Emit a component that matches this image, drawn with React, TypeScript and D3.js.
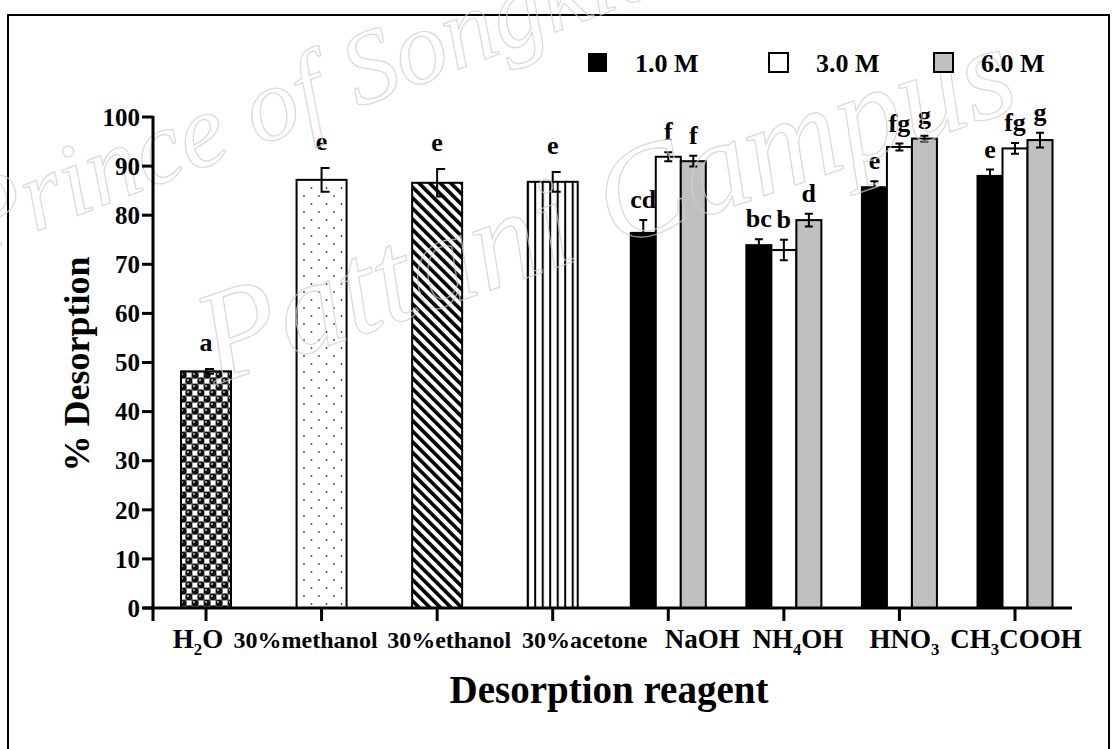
import React from "react";
import * as d3 from "d3";

// Reagents on the x axis (digits after a letter are drawn as subscripts)
const categories = ["H2O", "30%methanol", "30%ethanol", "30%acetone", "NaOH", "NH4OH", "HNO3", "CH3COOH"];

// Single-condition reagents
const singleReagents = ["H2O", "30%methanol", "30%ethanol", "30%acetone"];
const singleMeans = [48.2, 87.2, 86.6, 86.8];
const singleErrors = [0.5, 2.4, 2.8, 2.0];
const singleLetters = ["a", "e", "e", "e"];

// Acid / base reagents at three concentrations
const concentrations = ["1.0 M", "3.0 M", "6.0 M"];
const acidBaseReagents = ["NaOH", "NH4OH", "HNO3", "CH3COOH"];
const means1M = [76.4, 73.9, 85.7, 88.0];
const means3M = [91.9, 72.9, 93.9, 93.6];
const means6M = [91.0, 79.0, 95.6, 95.3];
const errors1M = [2.6, 1.2, 1.2, 1.3];
const errors3M = [0.9, 2.1, 0.7, 1.1];
const errors6M = [1.1, 1.3, 0.6, 1.5];
const letters1M = ["cd", "bc", "e", "e"];
const letters3M = ["f", "b", "fg", "fg"];
const letters6M = ["f", "d", "g", "g"];

const yTicks = [0, 10, 20, 30, 40, 50, 60, 70, 80, 90, 100];

const FONT = "'Liberation Serif', 'Times New Roman', serif";

function splitChem(label: string) {
  const parts: { t: string; sub: boolean }[] = [];
  for (let i = 0; i < label.length; i++) {
    const ch = label[i];
    const isSub = /[0-9]/.test(ch) && i > 0 && /[A-Za-z]/.test(label[i - 1]);
    const last = parts[parts.length - 1];
    if (last && last.sub === isSub) last.t += ch;
    else parts.push({ t: ch, sub: isSub });
  }
  return parts;
}

function ChemText({ label, x, y, size, shift }: { label: string; x: number; y: number; size: number; shift: number }) {
  const parts = splitChem(label);
  const spans: React.ReactNode[] = [];
  let down = false;
  parts.forEach((p, i) => {
    if (p.sub) {
      spans.push(
        <tspan key={i} dy={shift} fontSize={size * 0.62}>
          {p.t}
        </tspan>
      );
      down = true;
    } else {
      spans.push(
        <tspan key={i} dy={down ? -shift : 0}>
          {p.t}
        </tspan>
      );
      down = false;
    }
  });
  return (
    <text x={x} y={y} textAnchor="middle" fontFamily={FONT} fontWeight="bold" fontSize={size} fill="#000">
      {spans}
    </text>
  );
}

export default function App() {
  const width = 1116;
  const height = 749;

  const y = d3.scaleLinear().domain([0, 100]).range([608, 117]);
  const x = d3.scalePoint<string>().domain(categories).range([206, 1015]);

  const singleWidth = 50;
  const groupBar = 25;
  const seriesFill = ["#000000", "#ffffff", "#c0c0c0"];
  const singlePatterns = ["url(#patBalls)", "url(#patDots)", "url(#patDiag)", "url(#patVert)"];

  const groupMeans = [means1M, means3M, means6M];
  const groupErrors = [errors1M, errors3M, errors6M];
  const groupLetters = [letters1M, letters3M, letters6M];

  const labelShift = [-8, -16, 12, 32, 34, 14, 5, 1];
  const letterGap = 16;

  const axisLeft = 153;
  const axisBottom = 608;

  return (
    <svg width={width} height={height} style={{ position: "absolute", left: 0, top: 0, background: "#fff" }}>
      <defs>
        <pattern id="patBalls" width="12" height="12" patternUnits="userSpaceOnUse">
          <rect width="12" height="12" fill="#fff" />
          <rect x="6" y="0" width="6" height="6" fill="#fff" stroke="#333" strokeWidth="0.9" />
          <rect x="0" y="6" width="6" height="6" fill="#fff" stroke="#333" strokeWidth="0.9" />
          <circle cx="3" cy="3" r="3.5" fill="#111" />
          <circle cx="9" cy="9" r="3.5" fill="#111" />
          <circle cx="2" cy="2" r="0.9" fill="#ddd" />
          <circle cx="8" cy="8" r="0.9" fill="#ddd" />
        </pattern>
        <pattern id="patDots" width="15" height="16" patternUnits="userSpaceOnUse">
          <rect width="15" height="16" fill="#fff" />
          <circle cx="4" cy="4" r="0.9" fill="#444" />
          <circle cx="11.5" cy="12" r="0.9" fill="#444" />
        </pattern>
        <pattern id="patDiag" width="7.5" height="7.5" patternUnits="userSpaceOnUse" patternTransform="rotate(-45)">
          <rect width="7.5" height="7.5" fill="#fff" />
          <rect x="0" y="0" width="3.6" height="7.5" fill="#000" />
        </pattern>
        <pattern id="patVert" x={x("30%acetone")! - singleWidth / 2 + 6.5} width="7.5" height="10" patternUnits="userSpaceOnUse">
          <rect width="7.5" height="10" fill="#fff" />
          <rect x="0" y="0" width="2" height="10" fill="#000" />
        </pattern>
      </defs>

      {/* frame */}
      <rect x={8} y={15} width={1101} height={760} fill="none" stroke="#000" strokeWidth={2} />

      {/* single-condition bars */}
      {singleReagents.map((r, i) => {
        const cx = x(r)!;
        const top = y(singleMeans[i]);
        const hi = y(singleMeans[i] + singleErrors[i]);
        const lo = y(singleMeans[i] - singleErrors[i]);
        return (
          <g key={r}>
            <rect
              x={cx - singleWidth / 2}
              y={top}
              width={singleWidth}
              height={axisBottom - top}
              fill={singlePatterns[i]}
              stroke="#000"
              strokeWidth={2}
            />
            <path
              d={`M${cx + 8},${hi} H${cx} V${lo} H${cx + 8}`}
              fill="none"
              stroke="#000"
              strokeWidth={2}
            />
            <text
              x={cx}
              y={hi - letterGap - 2}
              textAnchor="middle"
              fontFamily={FONT}
              fontWeight="bold"
              fontSize={26}
            >
              {singleLetters[i]}
            </text>
          </g>
        );
      })}

      {/* concentration groups */}
      {acidBaseReagents.map((r, i) => {
        const cx = x(r)!;
        return (
          <g key={r}>
            {concentrations.map((c, k) => {
              const bx = cx - (groupBar * 3) / 2 + k * groupBar;
              const bc = bx + groupBar / 2;
              const v = groupMeans[k][i];
              const e = groupErrors[k][i];
              const top = y(v);
              const hi = y(v + e);
              const lo = y(v - e);
              return (
                <g key={c}>
                  <rect
                    x={bx}
                    y={top}
                    width={groupBar}
                    height={axisBottom - top}
                    fill={seriesFill[k]}
                    stroke="#000"
                    strokeWidth={2}
                  />
                  <path
                    d={`M${bc - 4},${hi} H${bc + 4} M${bc},${hi} V${lo} M${bc - 4},${lo} H${bc + 4}`}
                    fill="none"
                    stroke="#000"
                    strokeWidth={2}
                  />
                  <text
                    x={bc}
                    y={hi - letterGap + 4}
                    textAnchor="middle"
                    fontFamily={FONT}
                    fontWeight="bold"
                    fontSize={26}
                  >
                    {groupLetters[k][i]}
                  </text>
                </g>
              );
            })}
          </g>
        );
      })}

      {/* watermark */}
      <g fill="none" stroke="#cfcfcf" strokeWidth={1.3} opacity={0.75} fontFamily={FONT} fontStyle="italic">
        <text transform="translate(-25,255) rotate(-21)" fontSize={104}>
          Prince of Songkla
        </text>
        <text transform="translate(215,385) rotate(-19)" fontSize={132}>
          Pattani Campus
        </text>
      </g>

      {/* y axis */}
      <line x1={axisLeft} x2={axisLeft} y1={y(100) - 1} y2={621} stroke="#000" strokeWidth={3} />
      {yTicks.map((t) => (
        <g key={t}>
          <line x1={axisLeft - 11} x2={axisLeft} y1={y(t)} y2={y(t)} stroke="#000" strokeWidth={3} />
          <text
            x={axisLeft - 13}
            y={y(t)}
            dy="0.35em"
            textAnchor="end"
            fontFamily={FONT}
            fontWeight="bold"
            fontSize={25}
          >
            {t}
          </text>
        </g>
      ))}

      {/* x axis */}
      <line x1={143} x2={1072} y1={axisBottom} y2={axisBottom} stroke="#000" strokeWidth={3} />
      {categories.map((c, i) => (
        <g key={c}>
          <line x1={x(c)!} x2={x(c)!} y1={axisBottom} y2={621} stroke="#000" strokeWidth={3} />
          <ChemText
            label={c}
            x={x(c)! + labelShift[i]}
            y={648}
            size={c.startsWith("30%") ? 24 : 27}
            shift={7}
          />
        </g>
      ))}

      {/* axis titles */}
      <text x={609} y={703} textAnchor="middle" fontFamily={FONT} fontWeight="bold" fontSize={39}>
        Desorption reagent
      </text>
      <text
        transform="translate(89,364) rotate(-90)"
        textAnchor="middle"
        fontFamily={FONT}
        fontWeight="bold"
        fontSize={36}
      >
        % Desorption
      </text>

      {/* legend */}
      {concentrations.map((c, k) => {
        const lx = [588, 769, 934][k];
        return (
          <g key={c}>
            <rect x={lx} y={53} width={19} height={19} fill={seriesFill[k]} stroke="#000" strokeWidth={k === 0 ? 0 : 2} />
            <text x={lx + 47} y={72} fontFamily={FONT} fontWeight="bold" fontSize={26}>
              {c}
            </text>
          </g>
        );
      })}
    </svg>
  );
}
